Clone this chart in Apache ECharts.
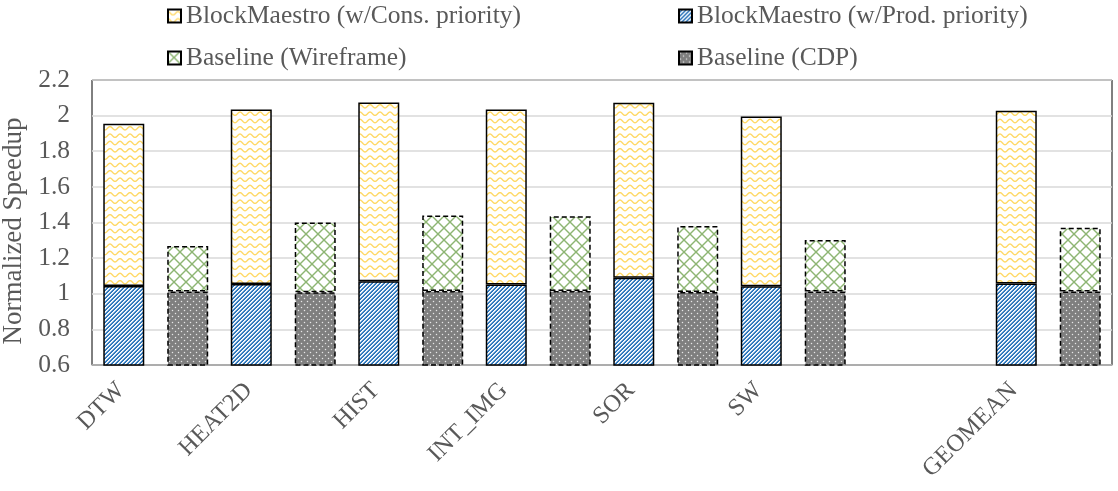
<!DOCTYPE html>
<html>
<head>
<meta charset="utf-8">
<script src="https://cdn.jsdelivr.net/npm/echarts@6/dist/echarts.min.js"></script>
<style>
  html, body { margin: 0; padding: 0; background: #fff; }
  #chart { width: 1118px; height: 491px; }
</style>
</head>
<body>
<div id="chart"></div>
<script>
// Benchmarks on the x axis (the empty slot separates the GEOMEAN group)
const categories = ['DTW', 'HEAT2D', 'HIST', 'INT_IMG', 'SOR', 'SW', '', 'GEOMEAN'];

// Normalized speedup per benchmark
const consPriority = [1.955, 2.035, 2.073, 2.035, 2.072, 1.995, null, 2.027];
const prodPriority = [1.043, 1.055, 1.070, 1.052, 1.090, 1.042, null, 1.058];
const wireframe    = [1.268, 1.400, 1.440, 1.435, 1.380, 1.302, null, 1.370];
const cdp          = [1.012, 1.008, 1.015, 1.015, 1.010, 1.012, null, 1.012];

// Y axis range and step
const yMin = 0.6, yMax = 2.2, yStep = 0.2;

const seriesNames = [
  'BlockMaestro (w/Cons. priority)',
  'BlockMaestro (w/Prod. priority)',
  'Baseline (Wireframe)',
  'Baseline (CDP)'
];

// The taller bar of each pair is drawn as the remainder above the shorter one
const diff = (top, base) => top.map((v, i) => (v == null || base[i] == null) ? null : +(v - base[i]).toFixed(4));

// ---- fill patterns built on small canvases ----
function pattern(w, h, draw) {
  const c = document.createElement('canvas');
  c.width = w; c.height = h;
  const ctx = c.getContext('2d');
  draw(ctx, w, h);
  return { image: c, repeat: 'repeat' };
}

// light wavy lines
const wavePattern = pattern(10, 22, (ctx, w, h) => {
  ctx.fillStyle = '#ffffff';
  ctx.fillRect(0, 0, w, h);
  ctx.strokeStyle = '#ffd966';
  ctx.lineWidth = 1.4;
  const rowH = h / 3;
  for (let r = 0; r < 3; r++) {
    const cy = rowH * r + rowH / 2;
    ctx.beginPath();
    for (let x = -1; x <= w + 1; x += 0.5) {
      const y = cy - 1.7 * Math.cos(2 * Math.PI * x / w);
      if (x === -1) ctx.moveTo(x, y); else ctx.lineTo(x, y);
    }
    ctx.stroke();
  }
});

// forward diagonal stripes, pixel by pixel
const stripePattern = pattern(4, 4, (ctx, w, h) => {
  const shades = ['#ffffff', '#d3e3f4', '#3a80c4', '#2e75b6'];
  for (let y = 0; y < h; y++) {
    for (let x = 0; x < w; x++) {
      ctx.fillStyle = shades[(x + y) % 4];
      ctx.fillRect(x, y, 1, 1);
    }
  }
});

// diagonal cross-hatch
const crossPattern = pattern(12, 12, (ctx, w, h) => {
  ctx.fillStyle = '#ffffff';
  ctx.fillRect(0, 0, w, h);
  ctx.strokeStyle = '#8db573';
  ctx.lineWidth = 1.4;
  for (let c = -12; c <= 24; c += 12) {
    ctx.beginPath();
    ctx.moveTo(c - 2, -2); ctx.lineTo(c + h + 2, h + 2);
    ctx.stroke();
    ctx.beginPath();
    ctx.moveTo(c + 2, -2); ctx.lineTo(c - h - 2, h + 2);
    ctx.stroke();
  }
});

// small light dots on grey
const dotPattern = pattern(6, 6, (ctx, w, h) => {
  ctx.fillStyle = '#7f7f7f';
  ctx.fillRect(0, 0, w, h);
  ctx.fillStyle = '#e6e6e6';
  [[1.5, 1.5], [4.5, 4.5]].forEach(([x, y]) => {
    ctx.beginPath();
    ctx.arc(x, y, 0.75, 0, Math.PI * 2);
    ctx.fill();
  });
});

const FONT = 'Liberation Serif';
const TEXT = '#595959';

const solidBorder = { borderColor: '#000', borderWidth: 1.5, borderType: 'solid' };
const dashBorder = { borderColor: '#000', borderWidth: 1.5, borderType: [5, 3] };

function legendAt(name, left, top) {
  return {
    data: [{ name: name, icon: 'rect' }],
    left: left, top: top,
    padding: 0,
    itemWidth: 13, itemHeight: 13,
    selectedMode: false,
    textStyle: { fontFamily: FONT, fontSize: 25.5, color: TEXT, lineHeight: 26 }
  };
}

const chart = echarts.init(document.getElementById('chart'), null, { renderer: 'canvas' });

chart.setOption({
  animation: false,
  backgroundColor: '#ffffff',
  legend: [
    legendAt(seriesNames[0], 167, 3),
    legendAt(seriesNames[1], 678, 3),
    legendAt(seriesNames[2], 167, 45),
    legendAt(seriesNames[3], 678, 45)
  ],
  grid: {
    left: 92, right: 6, top: 80, bottom: 126,
    outerBoundsMode: 'none',
    containLabel: false,
    show: true, borderColor: '#000', borderWidth: 1, backgroundColor: 'transparent'
  },
  xAxis: {
    type: 'category',
    data: categories,
    axisLine: { lineStyle: { color: '#a6a6a6', width: 1.5 } },
    axisTick: { show: false },
    axisLabel: {
      interval: 0,
      rotate: 45,
      margin: -13,
      padding: [0, 49, 0, 0],
      fontFamily: FONT, fontSize: 24.5, color: TEXT
    }
  },
  yAxis: {
    type: 'value',
    min: yMin, max: yMax, interval: yStep,
    name: 'Normalized Speedup',
    nameLocation: 'middle',
    nameGap: 57,
    nameTextStyle: { fontFamily: FONT, fontSize: 27, color: TEXT, padding: [0, 17, 0, 0] },
    axisLine: { show: false },
    axisTick: { show: false },
    axisLabel: {
      margin: 22,
      fontFamily: FONT, fontSize: 25.5, color: TEXT,
      formatter: v => String(+v.toFixed(1))
    },
    splitLine: { lineStyle: { color: '#d9d9d9', width: 1.5 } }
  },
  series: [
    {
      name: seriesNames[1], type: 'bar', stack: 'blockmaestro', barWidth: 41,
      data: prodPriority,
      itemStyle: Object.assign({ color: stripePattern }, solidBorder)
    },
    {
      name: seriesNames[0], type: 'bar', stack: 'blockmaestro', barWidth: 41,
      data: diff(consPriority, prodPriority),
      itemStyle: Object.assign({ color: wavePattern }, solidBorder)
    },
    {
      name: seriesNames[3], type: 'bar', stack: 'baseline', barWidth: 41,
      data: cdp,
      itemStyle: Object.assign({ color: dotPattern }, dashBorder)
    },
    {
      name: seriesNames[2], type: 'bar', stack: 'baseline', barWidth: 41, barGap: '56%',
      data: diff(wireframe, cdp),
      itemStyle: Object.assign({ color: crossPattern }, dashBorder)
    }
  ]
});
</script>
</body>
</html>
